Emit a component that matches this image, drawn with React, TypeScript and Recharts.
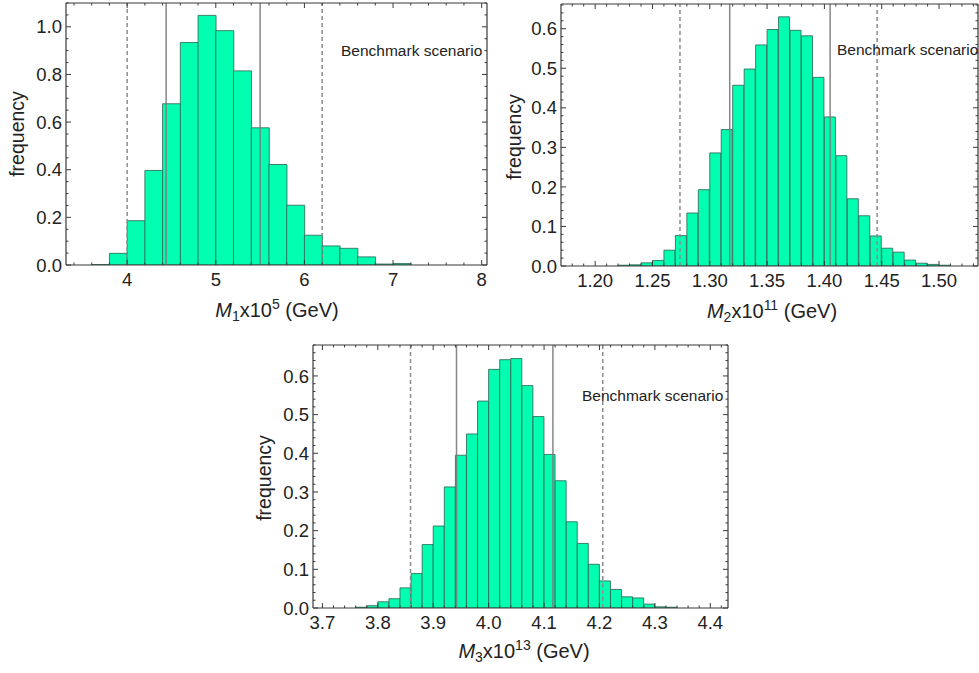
import { Bar, ComposedChart, ReferenceLine, XAxis, YAxis } from 'recharts'

// bin centres and frequencies
const m1Bins = [3.7, 3.9, 4.1, 4.3, 4.5, 4.7, 4.9, 5.1, 5.3, 5.5, 5.7, 5.9, 6.1, 6.3, 6.5, 6.7, 6.9, 7.1]
const m1Freq = [0.002, 0.049, 0.186, 0.397, 0.677, 0.934, 1.048, 0.984, 0.815, 0.576, 0.422, 0.251, 0.125, 0.08, 0.07, 0.034, 0.004, 0.006]

const m2Bins = [
  1.225, 1.235, 1.245, 1.255, 1.265, 1.275, 1.285, 1.295, 1.305, 1.315, 1.325, 1.335, 1.345, 1.355, 1.365,
  1.375, 1.385, 1.395, 1.405, 1.415, 1.425, 1.435, 1.445, 1.455, 1.465, 1.475, 1.485, 1.495, 1.505,
]
const m2Freq = [
  0.002, 0.003, 0.008, 0.014, 0.04, 0.077, 0.134, 0.193, 0.286, 0.345, 0.457, 0.498, 0.559, 0.598, 0.63,
  0.596, 0.582, 0.477, 0.377, 0.279, 0.17, 0.127, 0.076, 0.045, 0.035, 0.015, 0.007, 0.004, 0.002,
]

const m3Bins = [
  3.77, 3.79, 3.81, 3.83, 3.85, 3.87, 3.89, 3.91, 3.93, 3.95, 3.97, 3.99, 4.01, 4.03, 4.05, 4.07, 4.09,
  4.11, 4.13, 4.15, 4.17, 4.19, 4.21, 4.23, 4.25, 4.27, 4.29, 4.31, 4.33,
]
const m3Freq = [
  0.002, 0.006, 0.016, 0.024, 0.052, 0.089, 0.164, 0.212, 0.313, 0.395, 0.45, 0.535, 0.617, 0.642, 0.645,
  0.575, 0.495, 0.397, 0.329, 0.223, 0.167, 0.113, 0.07, 0.048, 0.029, 0.026, 0.01, 0.003, 0.002,
]

// interval lines: solid = inner band, dashed = outer band
const m1Solid = [4.44, 5.5]
const m1Dashed = [4.0, 6.2]
const m2Solid = [1.3174, 1.405]
const m2Dashed = [1.274, 1.446]
const m3Solid = [3.942, 4.116]
const m3Dashed = [3.859, 4.206]

const m1XTicks = [4, 5, 6, 7, 8]
const m1YTicks = [0, 0.2, 0.4, 0.6, 0.8, 1.0]
const m2XTicks = [1.2, 1.25, 1.3, 1.35, 1.4, 1.45, 1.5]
const m2YTicks = [0, 0.1, 0.2, 0.3, 0.4, 0.5, 0.6]
const m3XTicks = [3.7, 3.8, 3.9, 4.0, 4.1, 4.2, 4.3, 4.4]
const m3YTicks = [0, 0.1, 0.2, 0.3, 0.4, 0.5, 0.6]

const FONT = '"Liberation Sans", Arial, sans-serif'
const FRAME = '#3a3a3a'
const BAR_FILL = '#00ffb0'
const BAR_EDGE = '#2f6a58'

type Side = 'top' | 'bottom' | 'left' | 'right'

function minorTicks(min: number, max: number, step: number) {
  const out: number[] = []
  for (let k = Math.ceil(min / step - 1e-9); k * step <= max + 1e-9; k++) {
    out.push(Number((k * step).toFixed(4)))
  }
  return out
}

function tickRenderer(side: Side, majors: number[], digits: number, showLabel: boolean) {
  return (props: any) => {
    const { x, y, payload } = props
    const v = payload.value as number
    const major = majors.some((m) => Math.abs(m - v) < 1e-6)
    const len = major ? 5 : 2.5
    let line
    if (side === 'bottom') line = <line x1={x} x2={x} y1={y} y2={y - len} />
    else if (side === 'top') line = <line x1={x} x2={x} y1={y} y2={y + len} />
    else if (side === 'left') line = <line x1={x} x2={x + len} y1={y} y2={y} />
    else line = <line x1={x} x2={x - len} y1={y} y2={y} />
    let label = null
    if (major && showLabel && side === 'bottom') {
      label = (
        <text x={x} y={y + 21} textAnchor="middle" fontSize={18.5} fill="#222" fontFamily={FONT}>
          {v.toFixed(digits)}
        </text>
      )
    }
    if (major && showLabel && side === 'left') {
      label = (
        <text x={x - 4} y={y + 6.6} textAnchor="end" fontSize={18.5} fill="#222" fontFamily={FONT}>
          {v.toFixed(digits)}
        </text>
      )
    }
    return (
      <g>
        <g stroke={FRAME} strokeWidth={1}>{line}</g>
        {label}
      </g>
    )
  }
}

type HistProps = {
  bins: number[]
  freq: number[]
  width: number
  height: number
  margin: { top: number; right: number; bottom: number; left: number }
  yAxisWidth: number
  xAxisHeight: number
  xDomain: [number, number]
  yDomain: [number, number]
  xTicks: number[]
  yTicks: number[]
  xMinor: number
  yMinor: number
  xDigits: number
  solid: number[]
  dashed: number[]
}

function Histogram(p: HistProps) {
  const data = p.bins.map((x, i) => ({ x, f: p.freq[i] }))
  const xAll = minorTicks(p.xDomain[0], p.xDomain[1], p.xMinor)
  const yAll = minorTicks(p.yDomain[0], p.yDomain[1], p.yMinor)
  const axisLine = { stroke: FRAME, strokeWidth: 1.2 }

  return (
    <ComposedChart width={p.width} height={p.height} data={data} margin={p.margin} barCategoryGap={0} barGap={0}>
      <XAxis
        dataKey="x"
        type="number"
        domain={p.xDomain}
        ticks={xAll}
        interval={0}
        height={p.xAxisHeight}
        tickSize={0}
        tickMargin={0}
        tickLine={false}
        axisLine={axisLine}
        tick={tickRenderer('bottom', p.xTicks, p.xDigits, true)}
        allowDataOverflow
      />
      <XAxis
        xAxisId="top"
        orientation="top"
        dataKey="x"
        type="number"
        domain={p.xDomain}
        ticks={xAll}
        interval={0}
        height={1}
        tickSize={0}
        tickMargin={0}
        tickLine={false}
        axisLine={axisLine}
        tick={tickRenderer('top', p.xTicks, p.xDigits, false)}
        allowDataOverflow
      />
      <YAxis
        type="number"
        domain={p.yDomain}
        ticks={yAll}
        interval={0}
        width={p.yAxisWidth}
        tickSize={0}
        tickMargin={0}
        tickLine={false}
        axisLine={axisLine}
        tick={tickRenderer('left', p.yTicks, 1, true)}
        allowDataOverflow
      />
      <YAxis
        yAxisId="right"
        orientation="right"
        type="number"
        domain={p.yDomain}
        ticks={yAll}
        interval={0}
        width={1}
        tickSize={0}
        tickMargin={0}
        tickLine={false}
        axisLine={axisLine}
        tick={tickRenderer('right', p.yTicks, 1, false)}
        allowDataOverflow
      />
      <Bar dataKey="f" fill={BAR_FILL} stroke={BAR_EDGE} strokeOpacity={0.85} strokeWidth={1} isAnimationActive={false} />
      {p.dashed.map((v) => (
        <ReferenceLine key={'d' + v} x={v} stroke="#8c8c8c" strokeWidth={1.5} strokeDasharray="4 3" />
      ))}
      {p.solid.map((v) => (
        <ReferenceLine key={'s' + v} x={v} stroke="#7a7a7a" strokeOpacity={0.9} strokeWidth={1.5} />
      ))}
    </ComposedChart>
  )
}

function AxisTitle({ x, y, sub, sup }: { x: number; y: number; sub: string; sup: string }) {
  return (
    <text x={x} y={y} textAnchor="middle" fontSize={20} fill="#222" fontFamily={FONT}>
      <tspan fontStyle="italic">M</tspan>
      <tspan fontSize={14} dy={4}>{sub}</tspan>
      <tspan dy={-4}>x10</tspan>
      <tspan fontSize={14} dy={-8}>{sup}</tspan>
      <tspan dy={8}> (GeV)</tspan>
    </text>
  )
}

function FreqTitle({ x, y }: { x: number; y: number }) {
  return (
    <text transform={`translate(${x},${y}) rotate(-90)`} textAnchor="middle" fontSize={19.5} fill="#222" fontFamily={FONT}>
      frequency
    </text>
  )
}

function Note({ x, y }: { x: number; y: number }) {
  return (
    <text x={x} y={y} fontSize={15.5} fill="#222" fontFamily={FONT}>
      Benchmark scenario
    </text>
  )
}

export default function App() {
  return (
    <div style={{ position: 'absolute', left: 0, top: 0, width: 979, height: 673, background: '#fff', fontFamily: FONT }}>
      <div style={{ position: 'absolute', left: 0, top: 0 }}>
        <Histogram
          bins={m1Bins}
          freq={m1Freq}
          width={490}
          height={330}
          margin={{ top: 2, right: 2, bottom: 0, left: 0 }}
          yAxisWidth={66}
          xAxisHeight={65}
          xDomain={[3.31, 8.06]}
          yDomain={[0, 1.1]}
          xTicks={m1XTicks}
          yTicks={m1YTicks}
          xMinor={0.2}
          yMinor={0.05}
          xDigits={0}
          solid={m1Solid}
          dashed={m1Dashed}
        />
      </div>
      <div style={{ position: 'absolute', left: 490, top: 0 }}>
        <Histogram
          bins={m2Bins}
          freq={m2Freq}
          width={489}
          height={330}
          margin={{ top: 3, right: 0, bottom: 0, left: 0 }}
          yAxisWidth={71}
          xAxisHeight={64}
          xDomain={[1.1702, 1.534]}
          yDomain={[0, 0.6625]}
          xTicks={m2XTicks}
          yTicks={m2YTicks}
          xMinor={0.01}
          yMinor={0.02}
          xDigits={2}
          solid={m2Solid}
          dashed={m2Dashed}
        />
      </div>
      <div style={{ position: 'absolute', left: 240, top: 330 }}>
        <Histogram
          bins={m3Bins}
          freq={m3Freq}
          width={500}
          height={343}
          margin={{ top: 14, right: 11, bottom: 0, left: 0 }}
          yAxisWidth={73}
          xAxisHeight={65}
          xDomain={[3.683, 4.432]}
          yDomain={[0, 0.68]}
          xTicks={m3XTicks}
          yTicks={m3YTicks}
          xMinor={0.02}
          yMinor={0.02}
          xDigits={1}
          solid={m3Solid}
          dashed={m3Dashed}
        />
      </div>
      <svg width={979} height={673} style={{ position: 'absolute', left: 0, top: 0, pointerEvents: 'none' }}>
        <AxisTitle x={277} y={317} sub="1" sup="5" />
        <AxisTitle x={772} y={318} sub="2" sup="11" />
        <AxisTitle x={524} y={658} sub="3" sup="13" />
        <FreqTitle x={24} y={134} />
        <FreqTitle x={521} y={137} />
        <FreqTitle x={271} y={478} />
        <Note x={341} y={56} />
        <Note x={837} y={55} />
        <Note x={582} y={401} />
      </svg>
    </div>
  )
}
